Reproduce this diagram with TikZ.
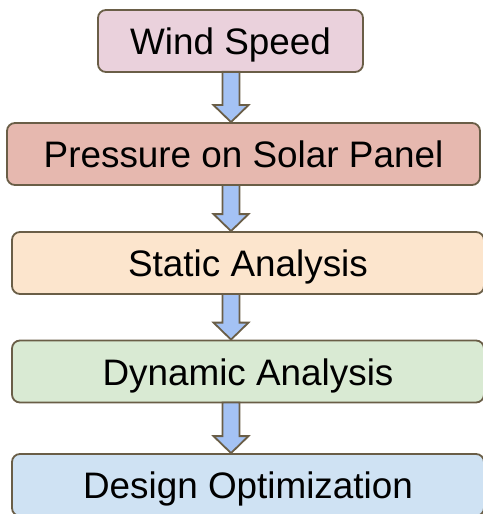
\documentclass[tikz,border=0pt]{standalone}
\usepackage{fontspec}
\setmainfont{Liberation Sans}
\usetikzlibrary{calc}

\definecolor{edgebrown}{RGB}{106,94,71}
\definecolor{windpink}{RGB}{234,209,220}
\definecolor{pressred}{RGB}{230,184,175}
\definecolor{staticorange}{RGB}{252,229,205}
\definecolor{dyngreen}{RGB}{217,234,211}
\definecolor{designblue}{RGB}{207,226,243}
\definecolor{arrowblue}{RGB}{164,194,244}

% block arrow from the bottom of one box to the top of the next
\newcommand{\flowarrow}[2]{%
  \draw[flow arrow] ($(ax |- #1.south)+(-8.5,-1)$) -- ($(ax |- #2.north)+(-8.5,-17)$)
    -- ($(ax |- #2.north)+(-17.5,-17)$) -- (ax |- #2.north)
    -- ($(ax |- #2.north)+(17.5,-17)$) -- ($(ax |- #2.north)+(8.5,-17)$)
    -- ($(ax |- #1.south)+(8.5,-1)$) -- cycle;}

\begin{document}
\begin{tikzpicture}[x=1bp,y=-1bp,line width=1.8bp,
  box node/.style={draw=edgebrown,rounded corners=8bp,minimum height=62bp,
    text height=27bp,text depth=0bp,inner sep=0pt,font=\fontsize{37}{44}\selectfont},
  flow arrow/.style={draw=edgebrown,fill=arrowblue,line join=miter}]

  \useasboundingbox (0,0) rectangle (483,514);

  \node[box node,fill=windpink,minimum width=265bp] (wind) at (230.5,41) {Wind Speed};
  \node[box node,fill=pressred,minimum width=473bp] (press) at (243.5,154) {Pressure on Solar Panel};
  \node[box node,fill=staticorange,minimum width=472bp] (static) at (248,263) {Static Analysis};
  \node[box node,fill=dyngreen,minimum width=472bp] (dyn) at (248,371.5) {Dynamic Analysis};
  \node[box node,fill=designblue,minimum width=472bp] (design) at (248,485) {Design Optimization};

  \coordinate (ax) at (231,0);

  \flowarrow{wind}{press}
  \flowarrow{press}{static}
  \flowarrow{static}{dyn}
  \flowarrow{dyn}{design}
\end{tikzpicture}
\end{document}
